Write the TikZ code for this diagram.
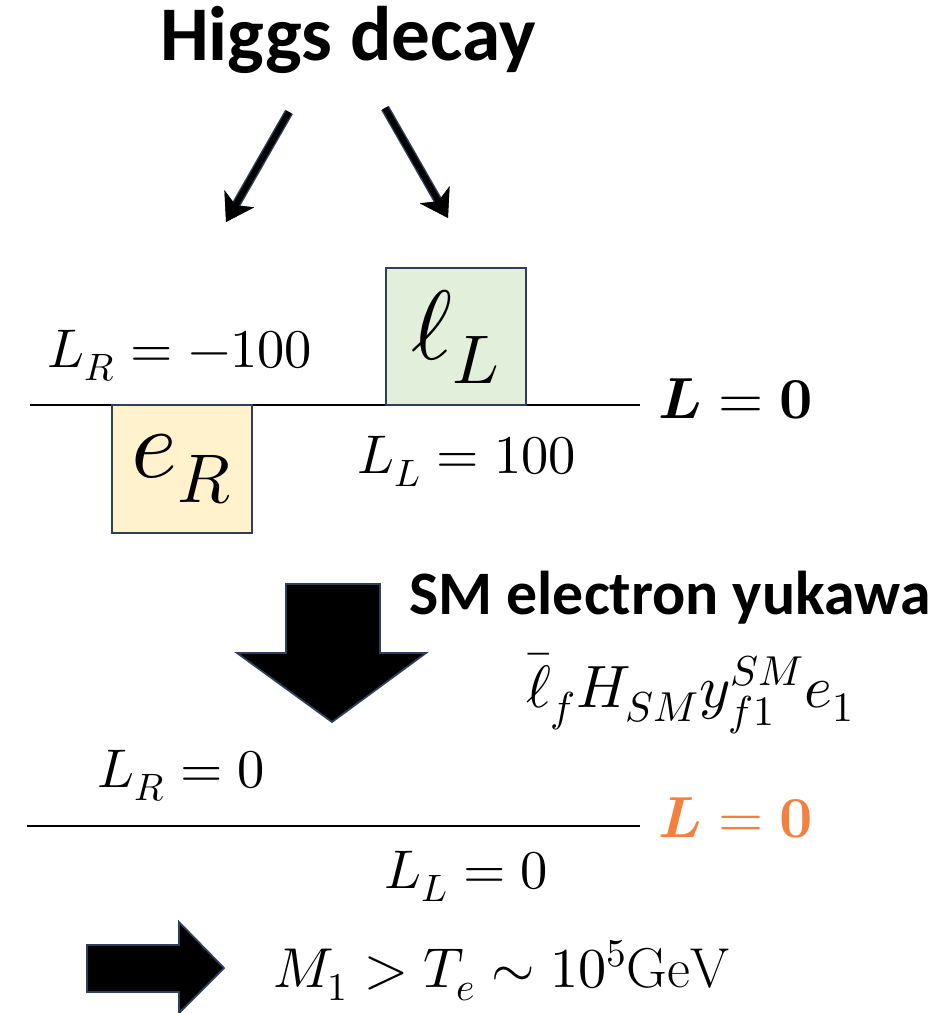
\documentclass[tikz,border=0pt]{standalone}
\usepackage{fontspec}
\usepackage{unicode-math}
\setmathfont{Latin Modern Math}
\newfontfamily\headfont{Carlito}
\usepackage{tikz}
\usetikzlibrary{arrows.meta}
\definecolor{hgnavy}{HTML}{2E3F5C}
\definecolor{hggreen}{HTML}{E2EFDA}
\definecolor{hgyellow}{HTML}{FFF2CC}
\definecolor{hgorange}{HTML}{F4803F}

\begin{document}
\begin{tikzpicture}[x=0.02cm,y=-0.02cm,
  hd/.style={inner sep=0pt,font=\fontsize{44}{50}\selectfont\headfont\bfseries},
  hdsm/.style={inner sep=0pt,font=\fontsize{35.2}{40}\selectfont\headfont\bfseries},
  lbl/.style={inner sep=0pt,font=\fontsize{31}{37}\selectfont},
  tot/.style={inner sep=0pt,font=\fontsize{33}{39}\selectfont},
  fld/.style={draw=hgnavy,line width=1.1pt,minimum width=2.8cm,inner sep=0pt,
    font=\fontsize{56}{62}\selectfont},
  lvl/.style={line width=1.3pt,black},
  arr/.style={line width=3.4pt,black,-{Stealth[length=15pt,width=19pt,inset=4pt]},
    preaction={draw=hgnavy,line width=5pt}},
  blk/.style={fill=black,draw=hgnavy,line width=1pt,line join=miter}]
  \useasboundingbox (0,0) rectangle (945,1013);
  % title and decay arrows
  \node[hd,anchor=base] (higgs) at (348,61) {Higgs decay};
  \coordinate (dl0) at (289,112);
  \coordinate (dl1) at (226,222);
  \coordinate (dr0) at (385,108);
  \coordinate (dr1) at (448,218);
  \draw[arr] (dl0) -- (dl1);
  \draw[arr] (dr0) -- (dr1);
  % before: L_R=-100, L_L=100
  \coordinate (ua) at (30,405);
  \coordinate (ub) at (640,405);
  \draw[lvl] (ua) -- (ub);
  \node[fld,fill=hgyellow,minimum height=2.56cm] (eR) at (182,469) {$e_R$};
  \node[fld,fill=hggreen,minimum height=2.74cm] (lL) at (456,336.5) {$\ell_L$};
  \node[lbl,anchor=base] (LRa) at (180,367) {$L_R=-100$};
  \node[lbl,anchor=base] (LLa) at (467,473) {$L_L=100$};
  \node[tot,anchor=base west] (tota) at (658,418) {$\symbfit{L}=\symbf{0}$};
  % yukawa step
  \draw[blk] (286,584) -- (380,584) -- (380,653) -- (426,653) -- (332,722)
    -- (237,653) -- (286,653) -- cycle;
  \node[hdsm,anchor=base west] (sm) at (409,614) {SM electron yukawa};
  \node[lbl,anchor=base,font=\fontsize{34}{40}\selectfont] (yuk) at (690,707)
    {$\bar{\ell}_f H_{SM} y^{SM}_{f1} e_1$};
  % after: L_R=0, L_L=0
  \coordinate (da) at (27,826);
  \coordinate (db) at (640,826);
  \draw[lvl] (da) -- (db);
  \node[lbl,anchor=base] (LRb) at (181,787) {$L_R=0$};
  \node[lbl,anchor=base] (LLb) at (466,888) {$L_L=0$};
  \node[tot,anchor=base west,text=hgorange] (totb) at (658,837) {$\symbfit{L}=\symbf{0}$};
  % bound
  \draw[blk] (87,945) -- (179,945) -- (179,922) -- (224,968) -- (179,1013)
    -- (179,992) -- (87,992) -- cycle;
  \node[lbl,anchor=base west,font=\fontsize{32}{38}\selectfont] (mass) at (273,987)
    {$M_1>T_e\sim10^5\mathrm{GeV}$};
\end{tikzpicture}
\end{document}
